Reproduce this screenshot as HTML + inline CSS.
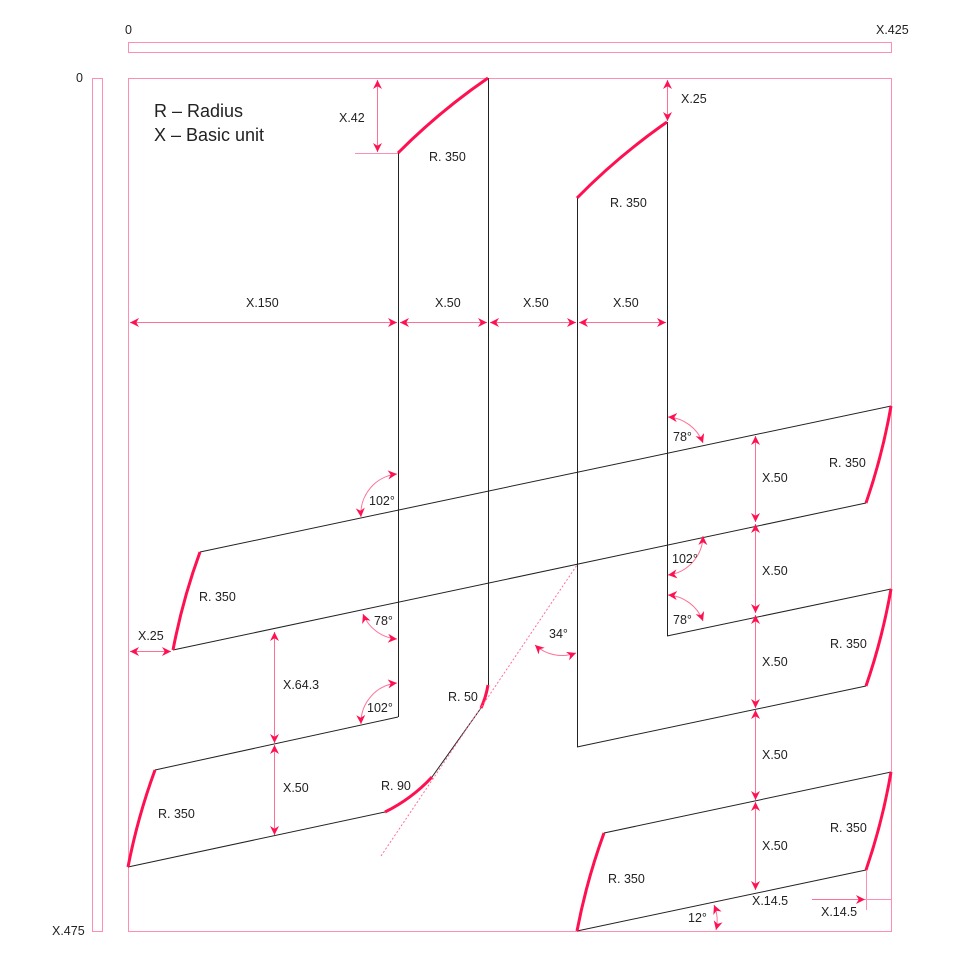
<!DOCTYPE html>
<html><head><meta charset="utf-8"><style>
html,body{margin:0;padding:0;background:#fff;}
svg{display:block;font-family:"Liberation Sans","DejaVu Sans",sans-serif;}
.t{font-size:12.5px;fill:#222;}
.f{fill:none;stroke:#ff8fb0;stroke-width:1;}
.k{fill:none;stroke:#222;stroke-width:1;}
.r{fill:none;stroke:#ff1050;stroke-width:3;}
.d{fill:none;stroke:#ff7095;stroke-width:1;marker-start:url(#a);marker-end:url(#a);}
.d1{fill:none;stroke:#ff7095;stroke-width:1;marker-end:url(#a);}
</style></head><body>
<svg width="960" height="960" viewBox="0 0 960 960">
<defs>
<marker id="a" viewBox="0 0 10 10" refX="10" refY="5" markerWidth="9" markerHeight="9" orient="auto-start-reverse" markerUnits="userSpaceOnUse">
<path d="M0,0 L10,5 L0,10 L3,5 z" fill="#ff1050"/></marker>
</defs>
<!-- rulers & frame -->
<rect x="128.5" y="42.5" width="763" height="10" class="f"/>
<rect x="92.5" y="78.5" width="10" height="853" class="f"/>
<rect x="128.5" y="78.5" width="763" height="853" class="f"/>
<text x="125" y="34" class="t">0</text>
<text x="876" y="34" class="t">X.425</text>
<text x="76" y="82" class="t">0</text>
<text x="52" y="935" class="t">X.475</text>
<text x="154" y="117" style="font-size:18px;fill:#222">R – Radius</text>
<text x="154" y="141" style="font-size:18px;fill:#222">X – Basic unit</text>

<!-- verticals -->
<line x1="398.5" y1="153" x2="398.5" y2="717" class="k"/>
<line x1="488.5" y1="78" x2="488.5" y2="685" class="k"/>
<line x1="577.5" y1="198" x2="577.5" y2="747" class="k"/>
<line x1="667.5" y1="122" x2="667.5" y2="636" class="k"/>
<!-- top arcs -->
<path d="M398,153 A628,628 0 0 1 488,78" class="r"/>
<path d="M577,198 A628,628 0 0 1 667,122" class="r"/>

<!-- long band -->
<line x1="200" y1="552" x2="891" y2="406" class="k"/>
<line x1="173" y1="650" x2="866" y2="503" class="k"/>
<path d="M200,552 A628,628 0 0 0 173,650" class="r"/>
<path d="M891,406 A628,628 0 0 1 866,503" class="r"/>
<!-- right second -->
<line x1="667" y1="636" x2="891" y2="589" class="k"/>
<line x1="577" y1="747" x2="866" y2="686" class="k"/>
<path d="M891,589 A628,628 0 0 1 866,686" class="r"/>
<!-- lower left -->
<line x1="155" y1="770" x2="398" y2="717" class="k"/>
<line x1="128" y1="867" x2="385" y2="812" class="k"/>
<path d="M128,867 A628,628 0 0 1 155,770" class="r"/>
<path d="M385,812 A161,161 0 0 0 432,777" class="r"/>
<line x1="432" y1="777" x2="481" y2="708" class="k"/>
<path d="M481,708 A90,90 0 0 0 488,685" class="r"/>
<line x1="381" y1="856" x2="577" y2="565" stroke="#ff7095" stroke-width="1" stroke-dasharray="2,2"/>
<!-- bottom right -->
<line x1="604" y1="833" x2="891" y2="772" class="k"/>
<line x1="577" y1="931" x2="866" y2="870" class="k"/>
<path d="M577,931 A628,628 0 0 1 604,833" class="r"/>
<path d="M891,772 A628,628 0 0 1 866,870" class="r"/>

<!-- dimensions -->
<line x1="355" y1="153.5" x2="398" y2="153.5" class="f"/>
<line x1="377.5" y1="80" x2="377.5" y2="152" class="d"/>
<text x="339" y="122" class="t">X.42</text>
<line x1="667.5" y1="80" x2="667.5" y2="121" class="d"/>
<text x="681" y="103" class="t">X.25</text>

<line x1="130" y1="322.5" x2="397" y2="322.5" class="d"/>
<line x1="400" y1="322.5" x2="487" y2="322.5" class="d"/>
<line x1="490" y1="322.5" x2="576" y2="322.5" class="d"/>
<line x1="579" y1="322.5" x2="666" y2="322.5" class="d"/>
<text x="246" y="307" class="t">X.150</text>
<text x="435" y="307" class="t">X.50</text>
<text x="523" y="307" class="t">X.50</text>
<text x="613" y="307" class="t">X.50</text>

<line x1="130" y1="651.5" x2="171" y2="651.5" class="d"/>
<text x="138" y="640" class="t">X.25</text>
<line x1="274.5" y1="632" x2="274.5" y2="743" class="d"/>
<line x1="274.5" y1="745" x2="274.5" y2="835" class="d"/>
<text x="283" y="689" class="t">X.64.3</text>
<text x="283" y="792" class="t">X.50</text>

<line x1="755.5" y1="436" x2="755.5" y2="522" class="d"/>
<line x1="755.5" y1="524" x2="755.5" y2="613" class="d"/>
<line x1="755.5" y1="615" x2="755.5" y2="708" class="d"/>
<line x1="755.5" y1="710" x2="755.5" y2="800" class="d"/>
<line x1="755.5" y1="802" x2="755.5" y2="890" class="d"/>
<text x="762" y="482" class="t">X.50</text>
<text x="762" y="575" class="t">X.50</text>
<text x="762" y="666" class="t">X.50</text>
<text x="762" y="759" class="t">X.50</text>
<text x="762" y="850" class="t">X.50</text>
<text x="752" y="905" class="t">X.14.5</text>

<line x1="866.5" y1="870" x2="866.5" y2="910" class="f"/>
<line x1="812" y1="899.5" x2="891" y2="899.5" class="f"/>
<line x1="812" y1="899.5" x2="865" y2="899.5" class="d1"/>
<text x="821" y="916" class="t">X.14.5</text>

<!-- angle arcs -->
<path d="M361,517 A40,40 0 0 1 397,474" class="d"/>
<text x="369" y="505" class="t">102°</text>
<path d="M363,614 A40,40 0 0 0 397,639" class="d"/>
<text x="374" y="625" class="t">78°</text>
<path d="M361,724 A40,40 0 0 1 397,683" class="d"/>
<text x="367" y="712" class="t">102°</text>
<path d="M668,417 A40,40 0 0 1 703,443" class="d"/>
<text x="673" y="441" class="t">78°</text>
<path d="M703,536 A40,40 0 0 1 668,575" class="d"/>
<text x="672" y="563" class="t">102°</text>
<path d="M668,595 A40,40 0 0 1 703,621" class="d"/>
<text x="673" y="624" class="t">78°</text>
<path d="M535,645 A40,40 0 0 0 576,653" class="d"/>
<text x="549" y="638" class="t">34°</text>
<path d="M714,905 A40,40 0 0 1 716,930" class="d"/>
<text x="688" y="922" class="t">12°</text>

<!-- R labels -->
<text x="429" y="161" class="t">R. 350</text>
<text x="610" y="207" class="t">R. 350</text>
<text x="199" y="601" class="t">R. 350</text>
<text x="829" y="467" class="t">R. 350</text>
<text x="830" y="648" class="t">R. 350</text>
<text x="158" y="818" class="t">R. 350</text>
<text x="830" y="832" class="t">R. 350</text>
<text x="608" y="883" class="t">R. 350</text>
<text x="448" y="701" class="t">R. 50</text>
<text x="381" y="790" class="t">R. 90</text>
</svg>
</body></html>
